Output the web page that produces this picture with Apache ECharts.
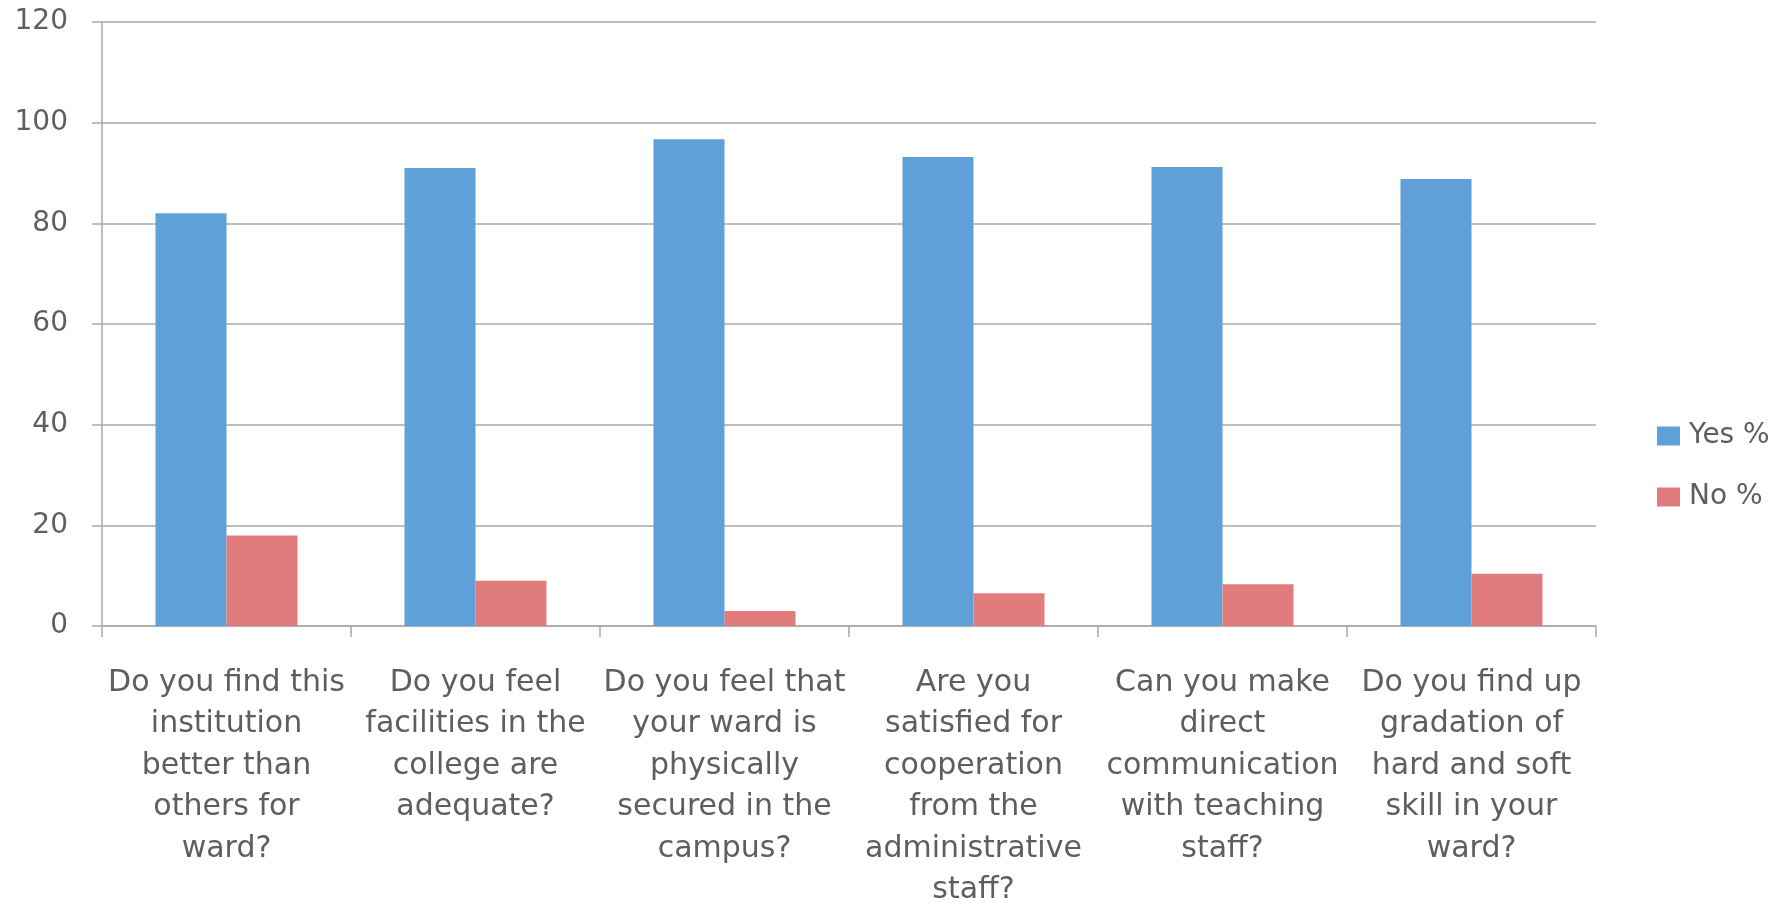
<!DOCTYPE html>
<html>
<head>
<meta charset="utf-8">
<script src="https://cdn.jsdelivr.net/npm/echarts@6/dist/echarts.min.js"></script>
<style>
html,body{margin:0;padding:0;background:#fff;}
#chart{width:1782px;height:905px;}
</style>
</head>
<body>
<div id="chart"></div>
<script>
const categories = [
  "Do you find this\ninstitution\nbetter than\nothers for\nward?",
  "Do you feel\nfacilities in the\ncollege are\nadequate?",
  "Do you feel that\nyour ward is\nphysically\nsecured in the\ncampus?",
  "Are you\nsatisfied for\ncooperation\nfrom the\nadministrative\nstaff?",
  "Can you make\ndirect\ncommunication\nwith teaching\nstaff?",
  "Do you find up\ngradation of\nhard and soft\nskill in your\nward?"
];
const yesValues = [82, 91, 96.7, 93.2, 91.2, 88.8];
const noValues = [18, 9, 3, 6.5, 8.3, 10.4];
const seriesNames = ["Yes %", "No %"];

const textColor = "#5e5e5e";
const lineColor = "#a9a9a9";
const font = "DejaVu Sans";

const chart = echarts.init(document.getElementById('chart'));
chart.setOption({
  animation: false,
  backgroundColor: "#ffffff",
  grid: { left: 102, right: 186, top: 22, bottom: 279, containLabel: false, outerBoundsMode: "none" },
  legend: {
    orient: "vertical",
    left: 1652,
    top: 417,
    itemWidth: 23,
    itemHeight: 19,
    itemGap: 33,
    icon: "rect",
    textStyle: { color: textColor, fontFamily: font, fontSize: 28, padding: [0, 0, 0, 4] },
    data: seriesNames
  },
  xAxis: {
    type: "category",
    data: categories,
    axisLine: { show: true, lineStyle: { color: lineColor, width: 1.5 } },
    axisTick: { show: true, length: 11, lineStyle: { color: lineColor, width: 1.5 } },
    axisLabel: {
      interval: 0,
      margin: 36,
      color: textColor,
      fontFamily: font,
      fontSize: 30,
      lineHeight: 41.5,
      align: "center"
    },
    splitLine: { show: false }
  },
  yAxis: {
    type: "value",
    min: 0,
    max: 120,
    interval: 20,
    axisLine: { show: true, lineStyle: { color: lineColor, width: 1.5 } },
    axisTick: { show: true, length: 10, lineStyle: { color: lineColor, width: 1.5 } },
    axisLabel: { color: textColor, fontFamily: font, fontSize: 28, margin: 34 },
    splitLine: { show: true, lineStyle: { color: lineColor, width: 1.5 } }
  },
  series: [
    {
      name: seriesNames[0],
      type: "bar",
      data: yesValues,
      barWidth: 71,
      barGap: "0%",
      itemStyle: { color: "#5fa0d9" }
    },
    {
      name: seriesNames[1],
      type: "bar",
      data: noValues,
      barWidth: 71,
      barGap: "0%",
      itemStyle: { color: "#e07c7c" }
    }
  ]
});
</script>
</body>
</html>
